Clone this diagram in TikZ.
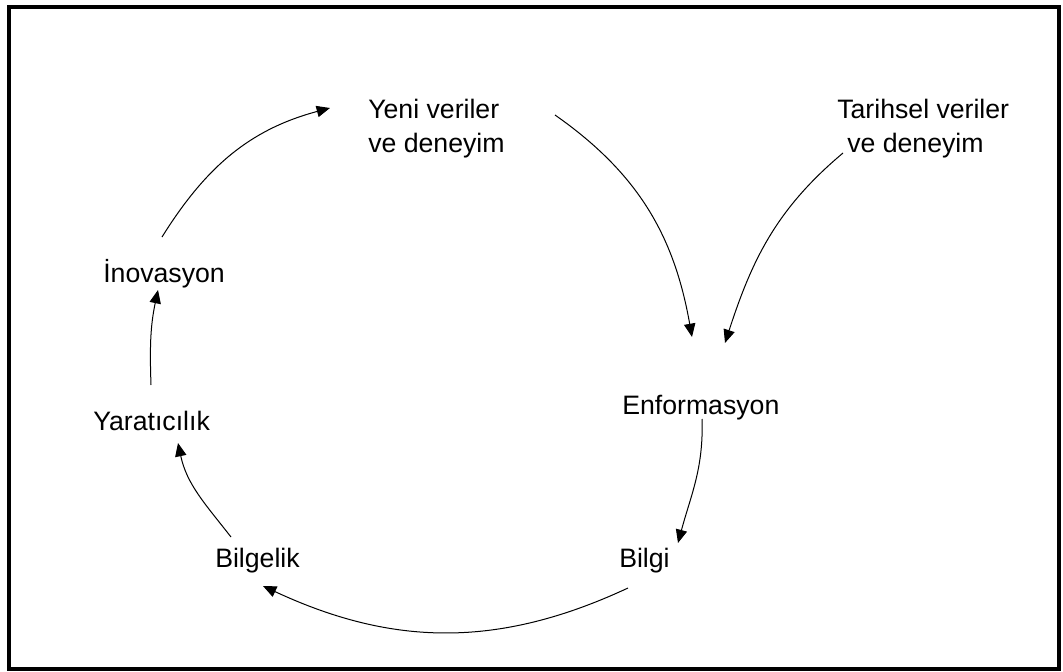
\documentclass[tikz,border=0pt]{standalone}
\usepackage{fontspec}
\setmainfont{Liberation Sans}
\usetikzlibrary{arrows.meta}

\begin{document}
\begin{tikzpicture}[x=0.75pt, y=-0.75pt,
      concept/.style ={anchor=base west, inner sep=0pt, align=left,
                       font=\fontsize{20}{25.5}\selectfont},
      flow/.style ={line width=0.75pt, -{Triangle[length=10pt, width=8.5pt]}}]
   \useasboundingbox (0,0) rectangle (1063,671);
   \draw[line width=3pt] (9,7) rectangle (1059,669);

   \node[concept] (yeni)  at (368,152)  {Yeni veriler\\ve deneyim};
   \node[concept] (tarih)  at (837,152)  {Tarihsel veriler\\\hspace*{7.5pt}ve deneyim};

   \node[concept] (inov)  at (103,282)  {İnovasyon};
   \node[concept] (yarat)  at (93,430)  {Yaratıcılık};
   \node[concept] (bilgelik)  at (215,567)  {Bilgelik};
   \node[concept] (bilgi)  at (619,567)  {Bilgi};
   \node[concept] (enf)  at (622,414)  {Enformasyon};


   \draw[flow] ([shift={(58,-45)}]yarat.base west) to[out=92, in=-102]  ([shift={(55,8)}]inov.base west);
   \draw[flow] ([shift={(59,-45)}]inov.base west) to[out=58, in=195]  ([shift={(-38,-44)}]yeni.base west);
   \draw[flow] ([shift={(187,-37)}]yeni.base west) to[out=-35, in=100]  ([shift={(70,-77)}]enf.base west);
   \draw[flow] ([shift={(6,1)}]tarih.base west) to[out=-140, in=72]  ([shift={(103,-71)}]enf.base west);

   \draw[flow] ([shift={(80,5)}]enf.base west) to[out=-88, in=75]  ([shift={(59,-24)}]bilgi.base west);
   \draw[flow] ([shift={(9,21)}]bilgi.base west) to[out=-155, in=-25]  ([shift={(48,19)}]bilgelik.base west);
   \draw[flow] ([shift={(16,-30)}]bilgelik.base west) to[out=128, in=-78]  ([shift={(85,13)}]yarat.base west);
 \end{tikzpicture}
\end{document}
